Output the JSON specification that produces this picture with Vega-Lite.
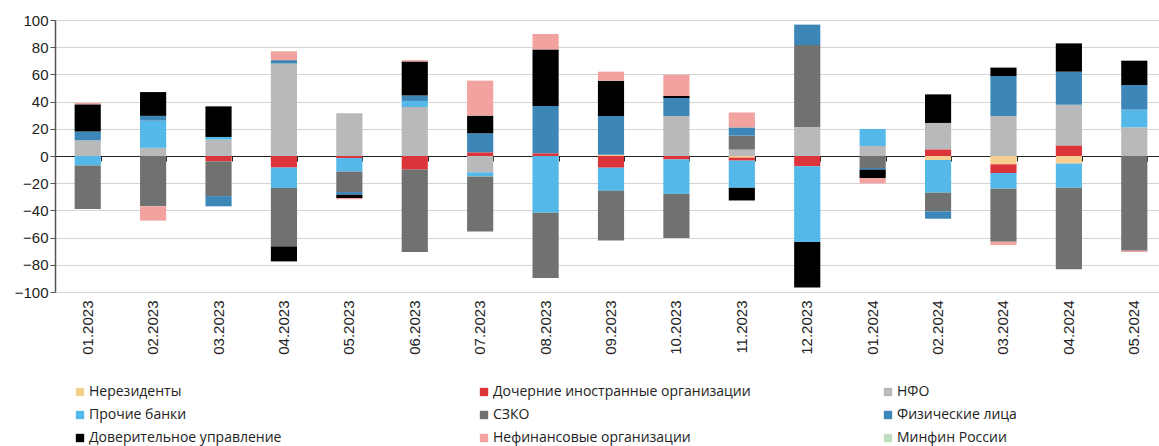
{
  "$schema": "https://vega.github.io/schema/vega-lite/v6.json",
  "width": 1112,
  "height": 272,
  "autosize": "none",
  "padding": {"left": 55, "top": 20, "right": 0, "bottom": 154},
  "background": "white",
  "config": {
    "view": {"stroke": null},
    "axis": {"labelFont": "Liberation Sans", "labelColor": "#222222"},
    "axisY": {"title": null, "values": [-100, -80, -60, -40, -20, 0, 20, 40, 60, 80, 100], "labelOverlap": false, "labelFontSize": 15, "labelPadding": 2, "tickSize": 5, "tickColor": "#555555", "domainColor": "#555555", "domainWidth": 1.5, "gridColor": "#d4d4d4", "gridWidth": 1.2}
  },
  "datasets": {
    "series": [
      {"s": "Нерезиденты", "k": 1},
      {"s": "Дочерние иностранные организации", "k": 2},
      {"s": "НФО", "k": 3},
      {"s": "Прочие банки", "k": 4},
      {"s": "СЗКО", "k": 5},
      {"s": "Физические лица", "k": 6},
      {"s": "Доверительное управление", "k": 7},
      {"s": "Нефинансовые организации", "k": 8},
      {"s": "Минфин России", "k": 9}
    ]
  },
  "data": {
    "values": [
      {"m": "01.2023", "НФО": 11.5, "Прочие банки": -7, "СЗКО": -32, "Физические лица": 6.5, "Доверительное управление": 20, "Нефинансовые организации": 1},
      {"m": "02.2023", "НФО": 6, "Прочие банки": 20, "СЗКО": -37, "Физические лица": 3.5, "Доверительное управление": 17.5, "Нефинансовые организации": -10.5},
      {"m": "03.2023", "Дочерние иностранные организации": -4, "НФО": 12, "Прочие банки": 2, "СЗКО": -25.5, "Физические лица": -7.5, "Доверительное управление": 22.5},
      {"m": "04.2023", "Дочерние иностранные организации": -8.5, "НФО": 68, "Прочие банки": -15, "СЗКО": -43, "Физические лица": 2.5, "Доверительное управление": -11, "Нефинансовые организации": 6.5},
      {"m": "05.2023", "Дочерние иностранные организации": -1.5, "НФО": 31.5, "Прочие банки": -10, "СЗКО": -15, "Физические лица": -2, "Доверительное управление": -2.5, "Нефинансовые организации": -0.8},
      {"m": "06.2023", "Дочерние иностранные организации": -10, "НФО": 36, "Прочие банки": 4.5, "СЗКО": -60.5, "Физические лица": 4, "Доверительное управление": 25, "Нефинансовые организации": 1},
      {"m": "07.2023", "Дочерние иностранные организации": 2.7, "НФО": -12, "Прочие банки": -3, "СЗКО": -40.6, "Физические лица": 14, "Доверительное управление": 13, "Нефинансовые организации": 25.7},
      {"m": "08.2023", "Дочерние иностранные организации": 2, "Прочие банки": -41.7, "СЗКО": -48, "Физические лица": 34.8, "Доверительное управление": 41.6, "Нефинансовые организации": 11.3},
      {"m": "09.2023", "Нерезиденты": 1, "Дочерние иностранные организации": -8.6, "Прочие банки": -17, "СЗКО": -36.6, "Физические лица": 28.4, "Доверительное управление": 26, "Нефинансовые организации": 6.6},
      {"m": "10.2023", "Дочерние иностранные организации": -2.5, "НФО": 29.4, "Прочие банки": -25.4, "СЗКО": -32.4, "Физические лица": 13.2, "Доверительное управление": 1.5, "Нефинансовые организации": 15.7},
      {"m": "11.2023", "Нерезиденты": -1.2, "Дочерние иностранные организации": -2.2, "НФО": 4.7, "Прочие банки": -20, "СЗКО": 10.3, "Физические лица": 6, "Доверительное управление": -9.3, "Нефинансовые организации": 11},
      {"m": "12.2023", "Дочерние иностранные организации": -7.6, "НФО": 21.3, "Прочие банки": -55.6, "СЗКО": 60.3, "Физические лица": 15, "Доверительное управление": -33.4},
      {"m": "01.2024", "НФО": 7.4, "Прочие банки": 12.5, "СЗКО": -8.8, "Физические лица": -1.2, "Доверительное управление": -6.2, "Нефинансовые организации": -3.9},
      {"m": "02.2024", "Нерезиденты": -2.9, "Дочерние иностранные организации": 4.9, "НФО": 19.4, "Прочие банки": -24.1, "СЗКО": -13.7, "Физические лица": -5.4, "Доверительное управление": 21},
      {"m": "03.2024", "Нерезиденты": -6.1, "Дочерние иностранные организации": -6.4, "НФО": 29.4, "Прочие банки": -11.5, "СЗКО": -39, "Физические лица": 29.4, "Доверительное управление": 6.2, "Нефинансовые организации": -2.4},
      {"m": "04.2024", "Нерезиденты": -5.6, "Дочерние иностранные организации": 7.8, "НФО": 29.9, "Прочие банки": -17.7, "СЗКО": -60, "Физические лица": 24.3, "Доверительное управление": 20.8},
      {"m": "05.2024", "НФО": 21.1, "Прочие банки": 13, "СЗКО": -69.6, "Физические лица": 18.1, "Доверительное управление": 17.9, "Нефинансовые организации": -1}
    ]
  },
  "transform": [
    {"fold": ["Нерезиденты", "Дочерние иностранные организации", "НФО", "Прочие банки", "СЗКО", "Физические лица", "Доверительное управление", "Нефинансовые организации", "Минфин России"], "as": ["s", "v"]},
    {"filter": "datum.v != null"},
    {"lookup": "s", "from": {"data": {"name": "series"}, "key": "s", "fields": ["k"]}}
  ],
  "encoding": {
    "x": {"field": "m", "type": "nominal", "sort": null, "scale": {"paddingInner": 0.6, "paddingOuter": 0.3}}
  },
  "layer": [
    {
      "mark": {"type": "bar"},
      "encoding": {
        "x": {"field": "m", "type": "nominal", "sort": null,
          "axis": {"orient": "bottom", "title": null, "labelAngle": -90, "labelFontSize": 15, "labelPadding": 8, "ticks": false, "domain": false, "grid": false}},
        "y": {"field": "v", "type": "quantitative", "aggregate": "sum", "stack": "zero",
          "scale": {"domain": [-100, 100], "nice": false},
          "axis": {"title": null, "values": [-100, -80, -60, -40, -20, 0, 20, 40, 60, 80, 100], "labelOverlap": false}},
        "color": {"field": "s", "type": "nominal",
          "scale": {
            "domain": ["Нерезиденты", "Дочерние иностранные организации", "НФО", "Прочие банки", "СЗКО", "Физические лица", "Доверительное управление", "Нефинансовые организации", "Минфин России"],
            "range": ["#f7cf90", "#dc343b", "#b8b9ba", "#54b8e8", "#707271", "#3c86b8", "#000000", "#f2a3a0", "#c1dec1"]
          },
          "legend": {"orient": "none", "legendX": 18, "legendY": 365, "direction": "horizontal", "columns": 3, "gridAlign": "all", "columnPadding": 130, "rowPadding": 9, "title": null, "symbolType": "square", "symbolSize": 70, "symbolStrokeWidth": 0, "labelFont": "Open Sans", "labelFontSize": 14, "labelColor": "#222222", "labelOffset": 2, "labelLimit": 400}
        },
        "order": {"field": "k", "type": "quantitative"}
      }
    },
    {
      "mark": {"type": "rule", "strokeWidth": 0},
      "encoding": {
        "x": {"field": "m", "type": "nominal", "sort": null,
          "axis": {"orient": "bottom", "offset": -136, "title": null, "labels": false, "ticks": true, "tickBand": "extent", "tickSize": 5, "tickColor": "#222222", "domain": true, "domainColor": "#222222", "domainWidth": 1.2, "grid": false}},
        "y": {"datum": 0, "axis": {"title": null, "values": [-100, -80, -60, -40, -20, 0, 20, 40, 60, 80, 100], "labelOverlap": false}}
      }
    }
  ],
  "resolve": {"axis": {"x": "independent"}}
}
